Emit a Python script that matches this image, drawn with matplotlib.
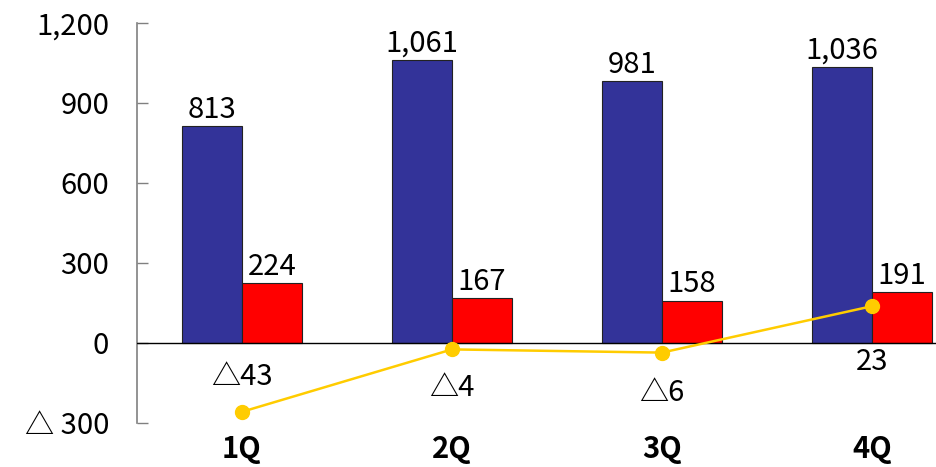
import numpy as np
import matplotlib.pyplot as plt

plt.rcParams['font.family'] = ['Noto Sans CJK JP', 'DejaVu Sans']

quarters = ['1Q', '2Q', '3Q', '4Q']
sales = [813, 1061, 981, 1036]
gross = [224, 167, 158, 191]
profit = [-43, -4, -6, 23]

y_ticks = [-300, 0, 300, 600, 900, 1200]
y_tick_labels = ['△ 300', '0', '300', '600', '900', '1,200']


def fmt(v):
    # negative numbers are written with a triangle, japanese style
    if v < 0:
        return '△' + format(-v, ',')
    return format(v, ',')


fig = plt.figure(figsize=(9.37, 4.67), dpi=100)
ax = fig.add_axes([137 / 937, 44 / 467, 800 / 937, 400 / 467])

x = np.arange(len(quarters))
w = 0.286
blue = '#333399'
red = '#ff0000'
gold = '#ffcc00'
fs = 21

ax.bar(x - w / 2, sales, w, color=blue, edgecolor='#222222', linewidth=0.8, zorder=2)
ax.bar(x + w / 2, gross, w, color=red, edgecolor='#222222', linewidth=0.8, zorder=2)

for i in range(len(quarters)):
    ax.annotate(fmt(sales[i]), (x[i] - w / 2, sales[i]), xytext=(0, 1),
                textcoords='offset points', ha='center', va='bottom', fontsize=fs)
    ax.annotate(fmt(gross[i]), (x[i] + w / 2, gross[i]), xytext=(0, 1),
                textcoords='offset points', ha='center', va='bottom', fontsize=fs)

ax.axhline(0, color='black', linewidth=1.0, zorder=3)

ax.set_xlim(-0.5, 3.31)
ax.set_ylim(-300, 1200)
ax.set_yticks(y_ticks)
ax.set_yticklabels(y_tick_labels, fontsize=fs)
ax.tick_params(axis='y', direction='in', length=8, width=1, color='#808080', pad=20)
ax.set_xticks(x)
ax.set_xticklabels(quarters, fontsize=fs, fontweight='bold')
ax.tick_params(axis='x', length=0, pad=8)

for s in ['top', 'right', 'bottom']:
    ax.spines[s].set_visible(False)
ax.spines['left'].set_color('#808080')
ax.spines['left'].set_linewidth(1.2)

# operating profit on a hidden secondary scale
ax2 = ax.twinx()
ax2.set_ylim(-50, 200)
ax2.plot(x, profit, color=gold, linewidth=1.8, marker='o', markersize=10, zorder=4)
ax2.set_yticks([])
for s in ax2.spines.values():
    s.set_visible(False)

offsets = [(0, 25), (0, -28), (0, -29), (0, -40)]
for i in range(len(quarters)):
    ax2.annotate(fmt(profit[i]), (x[i], profit[i]), xytext=offsets[i],
                 textcoords='offset points', ha='center', va='center', fontsize=fs)

fig.savefig('out.png', dpi=100)
